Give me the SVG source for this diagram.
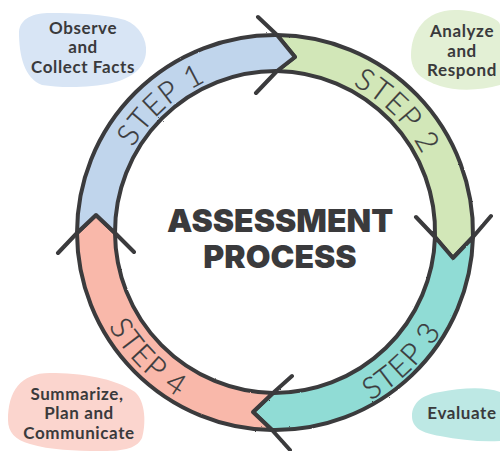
<svg xmlns="http://www.w3.org/2000/svg" width="500" height="451" viewBox="0 0 500 451">
<style>
.band{stroke:#3a3a3c;stroke-width:4;stroke-linejoin:round}
.barb{stroke:#3a3a3c;stroke-width:4;stroke-linecap:round;fill:none}
.step{font-family:"Lato","Liberation Sans",sans-serif;font-weight:300;font-size:30px;letter-spacing:1.4px;fill:#3a3a3c;stroke:#3a3a3c;stroke-width:.3;text-anchor:middle}
.lbl{font-family:"Lato","Liberation Sans",sans-serif;font-weight:700;font-size:17px;letter-spacing:.6px;fill:#3a3a3c;text-anchor:middle}
.title{font-family:"Inter","Liberation Sans",sans-serif;font-weight:900;font-size:32px;fill:#3a3a3c;text-anchor:middle}
</style>
<defs>
<filter id="rough" x="-5%" y="-5%" width="110%" height="110%"><feTurbulence type="fractalNoise" baseFrequency=".35" numOctaves="2" seed="4"/><feDisplacementMap in="SourceGraphic" scale="1.6"/></filter>
<path id="p1" d="M113.6 266.5A166 166 0 0 1 327.3 74.1"/>
<path id="p2" d="M238.7 70.3A166 166 0 0 1 437.7 269.4"/>
<path id="p3" d="M223.7 417.9A193 193 0 0 0 463 184.3"/>
<path id="p4" d="M91 180.7A192 192 0 0 0 324 417.9"/>
</defs>
<rect width="500" height="451" fill="#fff"/>
<g id="note-observe">
<path fill="#d8e5f5" d="M19 32C20 18 34 13 50 13C75 13 105 14 125 20C140 26 147 40 146 52C145 68 132 78 112 83C90 88 60 88 42 85C24 78 19 55 19 32Z"/>
<text class="lbl" x="83" y="34">Observe</text><text class="lbl" x="83" y="53">and</text><text class="lbl" x="83" y="73">Collect Facts</text>
</g>
<g id="note-analyze">
<path fill="#e3f0d5" d="M411 55C411 32 425 10 455 10C475 10 500 18 500 25L500 85C480 91 455 91 440 86C422 80 411 72 411 55Z"/>
<text class="lbl" x="462" y="37">Analyze</text><text class="lbl" x="462" y="57">and</text><text class="lbl" x="462" y="76">Respond</text>
</g>
<g id="note-evaluate">
<path fill="#bde8e4" d="M412 416C412 402 424 394 440 392C460 388 485 386 500 392L500 441C480 442 460 440 440 436C422 433 412 428 412 416Z"/>
<text class="lbl" x="462" y="419">Evaluate</text>
</g>
<g id="note-summarize">
<path fill="#fbd5ce" d="M8 420C8 392 20 373 50 373C80 373 115 378 135 392C146 402 146 425 142 438C136 450 120 451 100 451C75 451 50 450 30 444C15 440 8 432 8 420Z"/>
<text class="lbl" x="77" y="400">Summarize,</text><text class="lbl" x="79" y="419">Plan and</text><text class="lbl" x="79" y="439">Communicate</text>
</g>
<g id="connectors" filter="url(#rough)">
<path class="band" fill="#d2e7b8" d="M277 35A198 198 0 0 1 473 237L453 258L435 237A161 161 0 0 0 277 71L295 57Z"/>
<path class="band" fill="#90dcd5" d="M473 237A198 198 0 0 1 272 430L253 412L273 393A161 161 0 0 0 435 237L453 258Z"/>
<path class="band" fill="#f9b8aa" d="M272 430A198 198 0 0 1 77 233L96 215L115 233A161 161 0 0 0 273 393L253 412Z"/>
<path class="band" fill="#c0d5ec" d="M77 233A198 198 0 0 1 277 35L295 57L277 71A161 161 0 0 0 115 233L96 215Z"/>
<path class="barb" d="M258 17L277 35M256 93L277 71M416 217L435 237M491 216L473 237M292 376L273 393M290 450L272 430M58 253L77 233M134 252L115 233"/>
</g>
<g id="step-1"><text class="step"><textPath href="#p1" startOffset="50%">STEP 1</textPath></text></g>
<g id="step-2"><text class="step"><textPath href="#p2" startOffset="50%">STEP 2</textPath></text></g>
<g id="step-3"><text class="step"><textPath href="#p3" startOffset="50%">STEP 3</textPath></text></g>
<g id="step-4"><text class="step"><textPath href="#p4" startOffset="50%">STEP 4</textPath></text></g>
<g id="title">
<text class="title" x="280" y="232">ASSESSMENT</text>
<text class="title" x="280" y="268">PROCESS</text>
</g>
</svg>
